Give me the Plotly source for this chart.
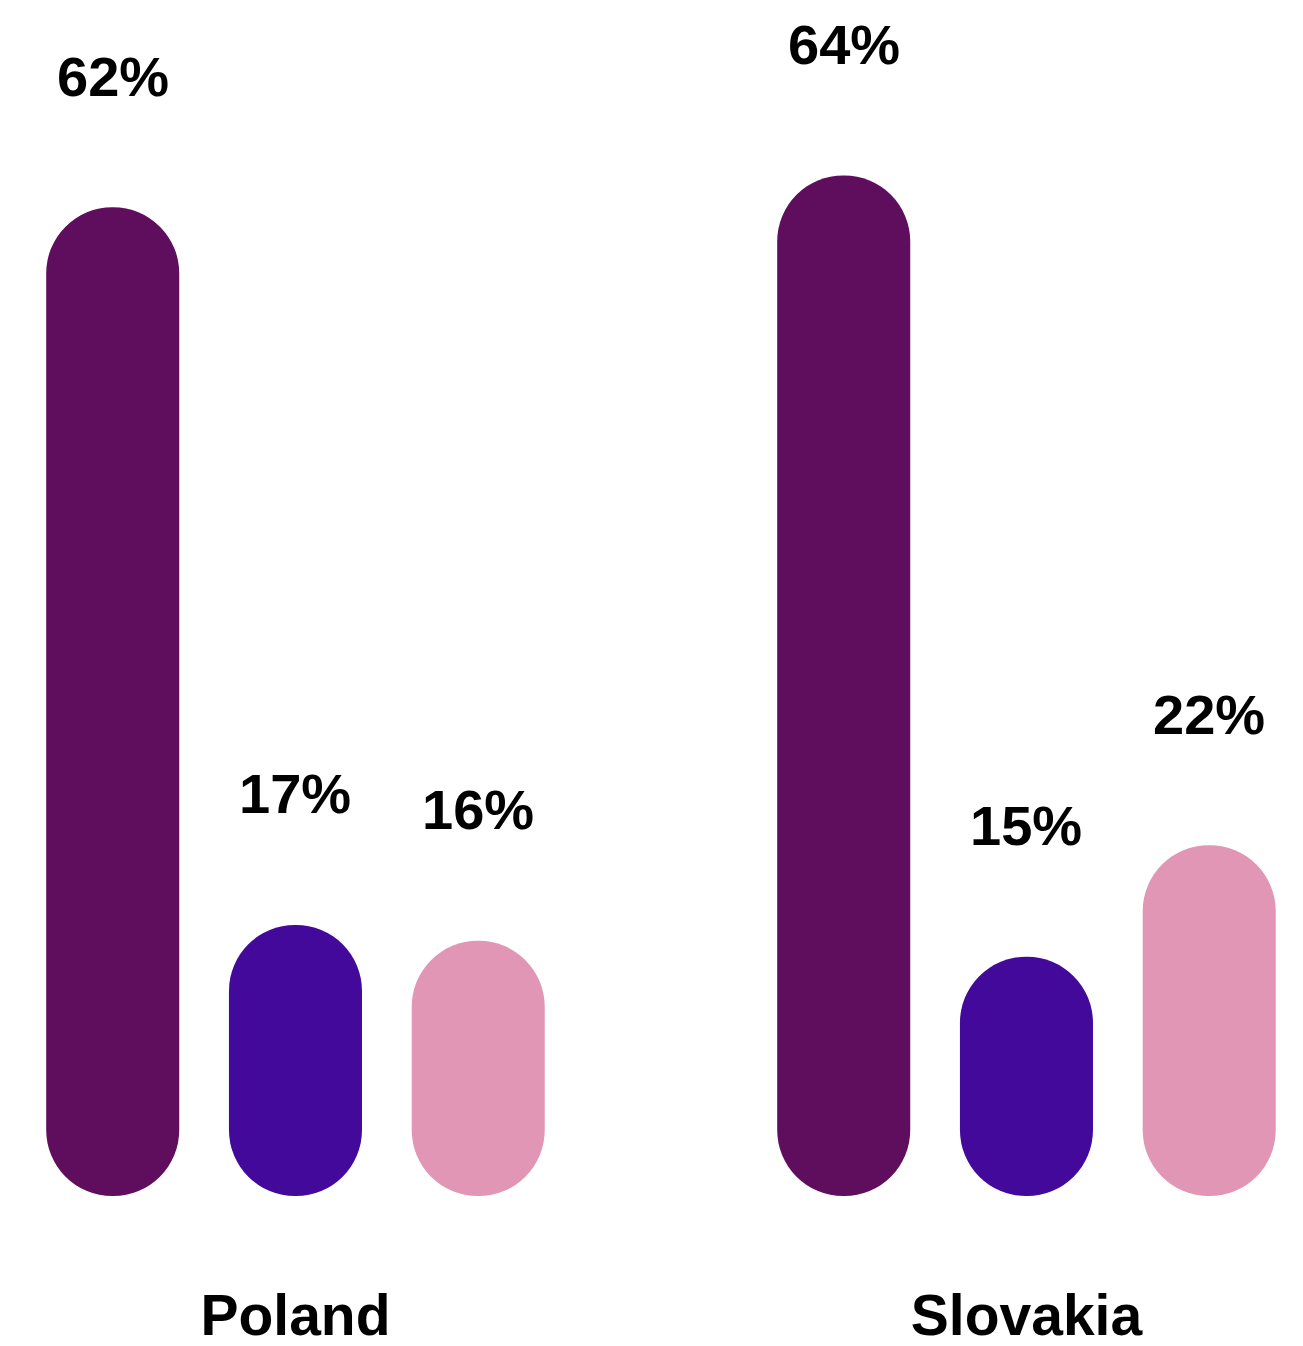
import plotly.graph_objects as go

# Survey shares (%) per country
countries = ["Poland", "Slovakia"]
series_names = ["Option A", "Option B", "Option C"]
option_a = [62, 64]
option_b = [17, 15]
option_c = [16, 22]
series_values = [option_a, option_b, option_c]
series_colors = ["#5F0D5D", "#43099A", "#E096B4"]

SLOT = 0.25      # distance between bars inside a country group (x units)
BAR_W = 0.182    # bar width (x units)

fig = go.Figure()

for i, (name, vals, color) in enumerate(zip(series_names, series_values, series_colors)):
    xs = [j + (i - 1) * SLOT for j in range(len(countries))]
    # An explicit base makes plotly round both ends of the bar -> pill shape
    fig.add_trace(go.Bar(
        x=xs, y=vals, base=[0] * len(vals),
        width=BAR_W, marker=dict(color=color, line=dict(width=0), cornerradius="50%"),
        name=name, showlegend=False,
        hovertemplate="%{y}%<extra>" + name + "</extra>",
    ))
    for x, v in zip(xs, vals):
        fig.add_annotation(
            x=x, y=v, xref="x", yref="y", text=f"{v}%", showarrow=False,
            yanchor="middle", yshift=131,
            font=dict(family="Liberation Sans", size=56, color="#000000", weight="bold"),
        )

fig.update_layout(
    width=1303, height=1346, autosize=False,
    barmode="overlay",
    paper_bgcolor="white", plot_bgcolor="white",
    margin=dict(l=0, r=0, t=0, b=150),
    xaxis=dict(
        range=[-0.4042, 1.3783], tickvals=list(range(len(countries))), ticktext=countries,
        showgrid=False, zeroline=False, showline=False, ticks="",
        ticklabelstandoff=81, automargin=False,
        tickfont=dict(family="Liberation Sans", size=57, color="#000000", weight="bold"),
    ),
    yaxis=dict(range=[0, 75], visible=False, showgrid=False, zeroline=False, automargin=False),
)

fig.write_html("out.html")
